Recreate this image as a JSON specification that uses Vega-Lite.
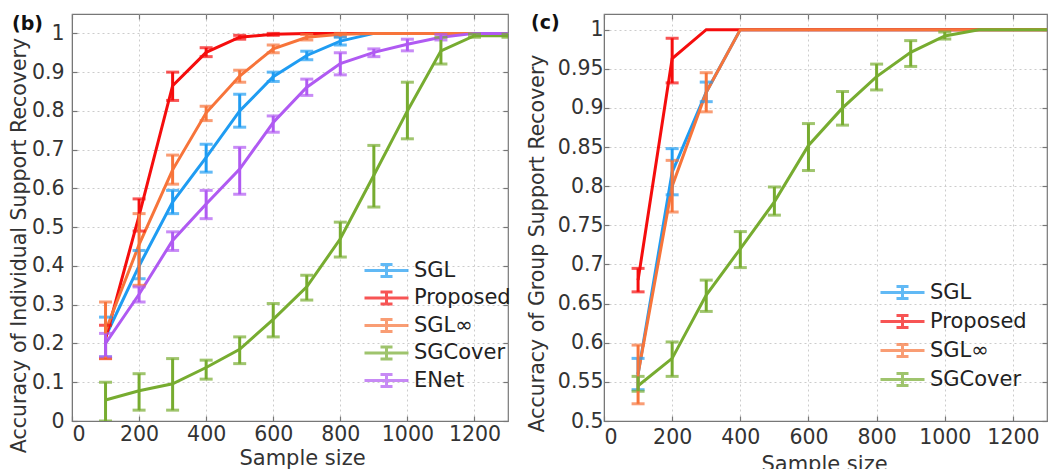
{
  "$schema": "https://vega.github.io/schema/vega-lite/v6.json",
  "padding": {"left": 8, "top": 12, "right": 0, "bottom": 0},
  "background": "white",
  "bounds": "flush",
  "spacing": 96,
  "config": {
    "font": "DejaVu Sans",
    "view": {"stroke": "#777", "strokeWidth": 1.2},
    "axis": {
      "labelFont": "DejaVu Sans", "labelFontSize": 20.5, "labelColor": "#333",
      "titleFont": "DejaVu Sans", "titleFontSize": 20.5, "titleFontWeight": "normal", "titleColor": "#333",
      "domainColor": "#777", "tickColor": "#777", "tickSize": -5, "tickWidth": 1.2,
      "gridColor": "#cccccc", "gridDash": [2, 3], "gridWidth": 1
    },
    "legend": {
      "labelFont": "DejaVu Sans", "labelFontSize": 21, "labelColor": "#222",
      "symbolType": "M-2.2,0H2.2M0,-0.6V0.6M-0.6,-0.6H0.6M-0.6,0.6H0.6",
      "symbolSize": 400, "symbolStrokeWidth": 3, "symbolFillColor": "transparent",
      "padding": 0, "rowPadding": 1, "labelOffset": 16
    }
  },
  "datasets": {
    "b": [
      {"method": "SGL", "n": 100, "acc": 0.218, "lo": 0.165, "hi": 0.268},
      {"method": "SGL", "n": 200, "acc": 0.40, "lo": 0.367, "hi": 0.44},
      {"method": "SGL", "n": 300, "acc": 0.565, "lo": 0.535, "hi": 0.595},
      {"method": "SGL", "n": 400, "acc": 0.68, "lo": 0.642, "hi": 0.714},
      {"method": "SGL", "n": 500, "acc": 0.80, "lo": 0.758, "hi": 0.843},
      {"method": "SGL", "n": 600, "acc": 0.888, "lo": 0.876, "hi": 0.90},
      {"method": "SGL", "n": 700, "acc": 0.943, "lo": 0.932, "hi": 0.954},
      {"method": "SGL", "n": 800, "acc": 0.98, "lo": 0.97, "hi": 0.99},
      {"method": "SGL", "n": 900, "acc": 1.0, "lo": null, "hi": null},
      {"method": "SGL", "n": 1000, "acc": 1.0, "lo": null, "hi": null},
      {"method": "SGL", "n": 1100, "acc": 1.0, "lo": null, "hi": null},
      {"method": "SGL", "n": 1200, "acc": 1.0, "lo": null, "hi": null},
      {"method": "SGL", "n": 1300, "acc": 1.0, "lo": null, "hi": null},
      {"method": "Proposed", "n": 100, "acc": 0.212, "lo": 0.161, "hi": 0.247},
      {"method": "Proposed", "n": 200, "acc": 0.53, "lo": 0.49, "hi": 0.573},
      {"method": "Proposed", "n": 300, "acc": 0.865, "lo": 0.827, "hi": 0.90},
      {"method": "Proposed", "n": 400, "acc": 0.951, "lo": 0.94, "hi": 0.963},
      {"method": "Proposed", "n": 500, "acc": 0.99, "lo": 0.985, "hi": 0.995},
      {"method": "Proposed", "n": 600, "acc": 0.998, "lo": 0.995, "hi": 1.0},
      {"method": "Proposed", "n": 700, "acc": 1.0, "lo": null, "hi": null},
      {"method": "Proposed", "n": 800, "acc": 1.0, "lo": null, "hi": null},
      {"method": "Proposed", "n": 900, "acc": 1.0, "lo": null, "hi": null},
      {"method": "Proposed", "n": 1000, "acc": 1.0, "lo": null, "hi": null},
      {"method": "Proposed", "n": 1100, "acc": 1.0, "lo": null, "hi": null},
      {"method": "Proposed", "n": 1200, "acc": 1.0, "lo": null, "hi": null},
      {"method": "Proposed", "n": 1300, "acc": 1.0, "lo": null, "hi": null},
      {"method": "SGL∞", "n": 100, "acc": 0.232, "lo": 0.161, "hi": 0.307},
      {"method": "SGL∞", "n": 200, "acc": 0.455, "lo": 0.35, "hi": 0.535},
      {"method": "SGL∞", "n": 300, "acc": 0.648, "lo": 0.611, "hi": 0.686},
      {"method": "SGL∞", "n": 400, "acc": 0.795, "lo": 0.775, "hi": 0.812},
      {"method": "SGL∞", "n": 500, "acc": 0.89, "lo": 0.874, "hi": 0.905},
      {"method": "SGL∞", "n": 600, "acc": 0.96, "lo": 0.95, "hi": 0.97},
      {"method": "SGL∞", "n": 700, "acc": 0.99, "lo": 0.983, "hi": 0.997},
      {"method": "SGL∞", "n": 800, "acc": 0.998, "lo": 0.992, "hi": 1.0},
      {"method": "SGL∞", "n": 900, "acc": 1.0, "lo": null, "hi": null},
      {"method": "SGL∞", "n": 1000, "acc": 1.0, "lo": null, "hi": null},
      {"method": "SGL∞", "n": 1100, "acc": 1.0, "lo": null, "hi": null},
      {"method": "SGL∞", "n": 1200, "acc": 1.0, "lo": null, "hi": null},
      {"method": "SGL∞", "n": 1300, "acc": 1.0, "lo": null, "hi": null},
      {"method": "SGCover", "n": 100, "acc": 0.054, "lo": 0.0, "hi": 0.10},
      {"method": "SGCover", "n": 200, "acc": 0.078, "lo": 0.028, "hi": 0.122},
      {"method": "SGCover", "n": 300, "acc": 0.096, "lo": 0.028, "hi": 0.161},
      {"method": "SGCover", "n": 400, "acc": 0.138, "lo": 0.108, "hi": 0.157},
      {"method": "SGCover", "n": 500, "acc": 0.185, "lo": 0.148, "hi": 0.217},
      {"method": "SGCover", "n": 600, "acc": 0.262, "lo": 0.217, "hi": 0.303},
      {"method": "SGCover", "n": 700, "acc": 0.346, "lo": 0.312, "hi": 0.376},
      {"method": "SGCover", "n": 800, "acc": 0.47, "lo": 0.423, "hi": 0.513},
      {"method": "SGCover", "n": 900, "acc": 0.634, "lo": 0.552, "hi": 0.711},
      {"method": "SGCover", "n": 1000, "acc": 0.80, "lo": 0.728, "hi": 0.874},
      {"method": "SGCover", "n": 1100, "acc": 0.955, "lo": 0.921, "hi": 0.99},
      {"method": "SGCover", "n": 1200, "acc": 0.994, "lo": 0.99, "hi": 0.998},
      {"method": "SGCover", "n": 1300, "acc": 0.994, "lo": 0.99, "hi": 0.998},
      {"method": "ENet", "n": 100, "acc": 0.20, "lo": 0.166, "hi": 0.226},
      {"method": "ENet", "n": 200, "acc": 0.327, "lo": 0.307, "hi": 0.346},
      {"method": "ENet", "n": 300, "acc": 0.466, "lo": 0.44, "hi": 0.488},
      {"method": "ENet", "n": 400, "acc": 0.56, "lo": 0.522, "hi": 0.595},
      {"method": "ENet", "n": 500, "acc": 0.65, "lo": 0.585, "hi": 0.706},
      {"method": "ENet", "n": 600, "acc": 0.77, "lo": 0.745, "hi": 0.787},
      {"method": "ENet", "n": 700, "acc": 0.861, "lo": 0.84, "hi": 0.882},
      {"method": "ENet", "n": 800, "acc": 0.922, "lo": 0.893, "hi": 0.95},
      {"method": "ENet", "n": 900, "acc": 0.951, "lo": 0.94, "hi": 0.96},
      {"method": "ENet", "n": 1000, "acc": 0.972, "lo": 0.955, "hi": 0.985},
      {"method": "ENet", "n": 1100, "acc": 0.99, "lo": 0.983, "hi": 0.997},
      {"method": "ENet", "n": 1200, "acc": 1.0, "lo": null, "hi": null},
      {"method": "ENet", "n": 1300, "acc": 1.0, "lo": null, "hi": null}
    ],
    "c": [
      {"method": "SGL", "n": 100, "acc": 0.56, "lo": 0.54, "hi": 0.58},
      {"method": "SGL", "n": 200, "acc": 0.818, "lo": 0.789, "hi": 0.848},
      {"method": "SGL", "n": 300, "acc": 0.92, "lo": 0.908, "hi": 0.933},
      {"method": "SGL", "n": 400, "acc": 1.0, "lo": null, "hi": null},
      {"method": "SGL", "n": 500, "acc": 1.0, "lo": null, "hi": null},
      {"method": "SGL", "n": 600, "acc": 1.0, "lo": null, "hi": null},
      {"method": "SGL", "n": 700, "acc": 1.0, "lo": null, "hi": null},
      {"method": "SGL", "n": 800, "acc": 1.0, "lo": null, "hi": null},
      {"method": "SGL", "n": 900, "acc": 1.0, "lo": null, "hi": null},
      {"method": "SGL", "n": 1000, "acc": 1.0, "lo": null, "hi": null},
      {"method": "SGL", "n": 1100, "acc": 1.0, "lo": null, "hi": null},
      {"method": "SGL", "n": 1200, "acc": 1.0, "lo": null, "hi": null},
      {"method": "SGL", "n": 1300, "acc": 1.0, "lo": null, "hi": null},
      {"method": "Proposed", "n": 100, "acc": 0.68, "lo": 0.665, "hi": 0.695},
      {"method": "Proposed", "n": 200, "acc": 0.963, "lo": 0.932, "hi": 0.989},
      {"method": "Proposed", "n": 300, "acc": 1.0, "lo": null, "hi": null},
      {"method": "Proposed", "n": 400, "acc": 1.0, "lo": null, "hi": null},
      {"method": "Proposed", "n": 500, "acc": 1.0, "lo": null, "hi": null},
      {"method": "Proposed", "n": 600, "acc": 1.0, "lo": null, "hi": null},
      {"method": "Proposed", "n": 700, "acc": 1.0, "lo": null, "hi": null},
      {"method": "Proposed", "n": 800, "acc": 1.0, "lo": null, "hi": null},
      {"method": "Proposed", "n": 900, "acc": 1.0, "lo": null, "hi": null},
      {"method": "Proposed", "n": 1000, "acc": 1.0, "lo": null, "hi": null},
      {"method": "Proposed", "n": 1100, "acc": 1.0, "lo": null, "hi": null},
      {"method": "Proposed", "n": 1200, "acc": 1.0, "lo": null, "hi": null},
      {"method": "Proposed", "n": 1300, "acc": 1.0, "lo": null, "hi": null},
      {"method": "SGL∞", "n": 100, "acc": 0.56, "lo": 0.522, "hi": 0.597},
      {"method": "SGL∞", "n": 200, "acc": 0.80, "lo": 0.767, "hi": 0.833},
      {"method": "SGL∞", "n": 300, "acc": 0.92, "lo": 0.895, "hi": 0.945},
      {"method": "SGL∞", "n": 400, "acc": 1.0, "lo": null, "hi": null},
      {"method": "SGL∞", "n": 500, "acc": 1.0, "lo": null, "hi": null},
      {"method": "SGL∞", "n": 600, "acc": 1.0, "lo": null, "hi": null},
      {"method": "SGL∞", "n": 700, "acc": 1.0, "lo": null, "hi": null},
      {"method": "SGL∞", "n": 800, "acc": 1.0, "lo": null, "hi": null},
      {"method": "SGL∞", "n": 900, "acc": 1.0, "lo": null, "hi": null},
      {"method": "SGL∞", "n": 1000, "acc": 1.0, "lo": null, "hi": null},
      {"method": "SGL∞", "n": 1100, "acc": 1.0, "lo": null, "hi": null},
      {"method": "SGL∞", "n": 1200, "acc": 1.0, "lo": null, "hi": null},
      {"method": "SGL∞", "n": 1300, "acc": 1.0, "lo": null, "hi": null},
      {"method": "SGCover", "n": 100, "acc": 0.545, "lo": 0.538, "hi": 0.557},
      {"method": "SGCover", "n": 200, "acc": 0.58, "lo": 0.557, "hi": 0.601},
      {"method": "SGCover", "n": 300, "acc": 0.661, "lo": 0.64, "hi": 0.68},
      {"method": "SGCover", "n": 400, "acc": 0.72, "lo": 0.696, "hi": 0.742},
      {"method": "SGCover", "n": 500, "acc": 0.78, "lo": 0.763, "hi": 0.799},
      {"method": "SGCover", "n": 600, "acc": 0.852, "lo": 0.82, "hi": 0.88},
      {"method": "SGCover", "n": 700, "acc": 0.90, "lo": 0.878, "hi": 0.921},
      {"method": "SGCover", "n": 800, "acc": 0.94, "lo": 0.923, "hi": 0.956},
      {"method": "SGCover", "n": 900, "acc": 0.971, "lo": 0.953, "hi": 0.986},
      {"method": "SGCover", "n": 1000, "acc": 0.992, "lo": 0.988, "hi": 0.997},
      {"method": "SGCover", "n": 1100, "acc": 1.0, "lo": null, "hi": null},
      {"method": "SGCover", "n": 1200, "acc": 1.0, "lo": null, "hi": null},
      {"method": "SGCover", "n": 1300, "acc": 1.0, "lo": null, "hi": null}
    ]
  },
  "hconcat": [
    {
      "width": 436,
      "height": 407,
      "title": {"text": "(b)", "anchor": "start", "frame": "group", "orient": "top", "offset": -21, "dx": -60, "baseline": "top", "fontSize": 19, "fontWeight": "bold", "color": "#111", "font": "DejaVu Sans"},
      "data": {"name": "b"},
      "layer": [
        {
          "mark": {"type": "line", "strokeWidth": 3, "clip": true},
          "encoding": {
            "x": {"field": "n", "type": "quantitative",
              "scale": {"domain": [0, 1300], "nice": false, "zero": false},
              "axis": {"orient": "bottom", "values": [0, 200, 400, 600, 800, 1000, 1200], "format": "d", "grid": true, "labelPadding": 8, "title": "Sample size", "titleFontSize": 21, "titleX": 230, "titleY": 26, "titleBaseline": "top", "titleAlign": "center"}},
            "y": {"field": "acc", "type": "quantitative",
              "scale": {"domain": [0, 1.05], "nice": false, "zero": false},
              "axis": {"orient": "left", "values": [0, 0.1, 0.2, 0.3, 0.4, 0.5, 0.6, 0.7, 0.8, 0.9, 1], "format": "~g", "grid": true, "labelPadding": 13, "title": "Accuracy of Individual Support Recovery", "titleX": -53, "titleY": 231, "titleAngle": -90, "titleBaseline": "middle", "titleAlign": "center"}},
            "color": {"field": "method", "type": "nominal",
              "scale": {"domain": ["SGL", "Proposed", "SGL∞", "SGCover", "ENet"], "range": ["#1f9cf2", "#f50d0d", "#f7743a", "#77ac30", "#b05af2"]},
              "legend": {"title": null, "orient": "none", "legendX": 303, "legendY": 245, "rowPadding": 2.5}}
          }
        },
        {
          "transform": [{"filter": "datum.lo != null"}],
          "mark": {"type": "errorbar", "ticks": {"size": 13}, "thickness": 3, "clip": true},
          "encoding": {
            "x": {"field": "n", "type": "quantitative",
              "scale": {"domain": [0, 1300], "nice": false, "zero": false},
              "axis": {"orient": "top", "values": [0, 200, 400, 600, 800, 1000, 1200], "labels": false, "grid": false, "title": null, "domain": false}},
            "y": {"field": "lo", "type": "quantitative",
              "scale": {"domain": [0, 1.05], "nice": false, "zero": false},
              "axis": {"orient": "right", "values": [0, 0.1, 0.2, 0.3, 0.4, 0.5, 0.6, 0.7, 0.8, 0.9, 1], "labels": false, "grid": false, "title": null, "domain": false}},
            "y2": {"field": "hi"},
            "color": {"field": "method", "type": "nominal"}
          }
        }
      ]
    },
    {
      "width": 443,
      "height": 407,
      "title": {"text": "(c)", "anchor": "start", "frame": "group", "orient": "top", "offset": -20, "dx": -73, "baseline": "top", "fontSize": 19, "fontWeight": "bold", "color": "#111", "font": "DejaVu Sans"},
      "data": {"name": "c"},
      "layer": [
        {
          "mark": {"type": "line", "strokeWidth": 3, "clip": true},
          "encoding": {
            "x": {"field": "n", "type": "quantitative",
              "scale": {"domain": [0, 1300], "nice": false, "zero": false},
              "axis": {"orient": "bottom", "values": [0, 200, 400, 600, 800, 1000, 1200], "format": "d", "grid": true, "labelPadding": 11, "title": "Sample size", "titleFontSize": 21, "titleX": 220, "titleY": 32, "titleBaseline": "top", "titleAlign": "center"}},
            "y": {"field": "acc", "type": "quantitative",
              "scale": {"domain": [0.5, 1.02], "nice": false, "zero": false},
              "axis": {"orient": "left", "values": [0.5, 0.55, 0.6, 0.65, 0.7, 0.75, 0.8, 0.85, 0.9, 0.95, 1], "format": "~g", "grid": true, "labelPadding": 6, "title": "Accuracy of Group Support Recovery", "titleX": -67, "titleY": 229, "titleAngle": -90, "titleBaseline": "middle", "titleAlign": "center"}},
            "color": {"field": "method", "type": "nominal",
              "scale": {"domain": ["SGL", "Proposed", "SGL∞", "SGCover"], "range": ["#1f9cf2", "#f50d0d", "#f7743a", "#77ac30"]},
              "legend": {"title": null, "orient": "none", "legendX": 287, "legendY": 267, "rowPadding": 4}}
          }
        },
        {
          "transform": [{"filter": "datum.lo != null"}],
          "mark": {"type": "errorbar", "ticks": {"size": 13}, "thickness": 3, "clip": true},
          "encoding": {
            "x": {"field": "n", "type": "quantitative",
              "scale": {"domain": [0, 1300], "nice": false, "zero": false},
              "axis": {"orient": "top", "values": [0, 200, 400, 600, 800, 1000, 1200], "labels": false, "grid": false, "title": null, "domain": false}},
            "y": {"field": "lo", "type": "quantitative",
              "scale": {"domain": [0.5, 1.02], "nice": false, "zero": false},
              "axis": {"orient": "right", "values": [0.5, 0.55, 0.6, 0.65, 0.7, 0.75, 0.8, 0.85, 0.9, 0.95, 1], "labels": false, "grid": false, "title": null, "domain": false}},
            "y2": {"field": "hi"},
            "color": {"field": "method", "type": "nominal"}
          }
        }
      ]
    }
  ],
  "resolve": {
    "scale": {"x": "independent", "y": "independent", "color": "independent"},
    "legend": {"color": "independent"}
  }
}
